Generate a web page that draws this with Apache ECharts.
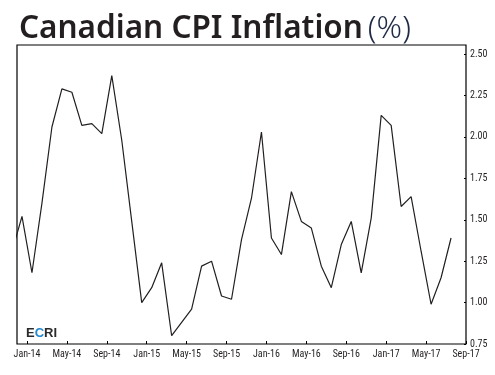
<!DOCTYPE html>
<html>
<head>
<meta charset="utf-8">
<script src="https://cdn.jsdelivr.net/npm/echarts@6/dist/echarts.min.js"></script>
<style>
  html, body { margin: 0; padding: 0; background: #fff; }
  #chart { width: 495px; height: 375px; }
</style>
</head>
<body>
<div id="chart"></div>
<script>
// monthly CPI inflation (%); Nov-13 is clipped by the left edge
var months = ['Nov-13', 'Dec-13',
  'Jan-14', 'Feb-14', 'Mar-14', 'Apr-14', 'May-14', 'Jun-14', 'Jul-14', 'Aug-14', 'Sep-14', 'Oct-14', 'Nov-14', 'Dec-14',
  'Jan-15', 'Feb-15', 'Mar-15', 'Apr-15', 'May-15', 'Jun-15', 'Jul-15', 'Aug-15', 'Sep-15', 'Oct-15', 'Nov-15', 'Dec-15',
  'Jan-16', 'Feb-16', 'Mar-16', 'Apr-16', 'May-16', 'Jun-16', 'Jul-16', 'Aug-16', 'Sep-16', 'Oct-16', 'Nov-16', 'Dec-16',
  'Jan-17', 'Feb-17', 'Mar-17', 'Apr-17', 'May-17', 'Jun-17', 'Jul-17'];
var cpi = [1.31, 1.52,
  1.18, 1.60, 2.06, 2.29, 2.27, 2.07, 2.08, 2.02, 2.37, 1.98, 1.49, 1.00,
  1.09, 1.24, 0.80, 0.88, 0.96, 1.22, 1.25, 1.04, 1.02, 1.38, 1.63, 2.03,
  1.39, 1.29, 1.67, 1.49, 1.45, 1.22, 1.09, 1.35, 1.49, 1.18, 1.51, 2.13,
  2.07, 1.58, 1.64, 1.31, 0.99, 1.15, 1.39];
var xTickLabels = ['Jan-14', 'May-14', 'Sep-14', 'Jan-15', 'May-15', 'Sep-15', 'Jan-16',
  'May-16', 'Sep-16', 'Jan-17', 'May-17', 'Sep-17'];
var yTicks = [0.75, 1.00, 1.25, 1.50, 1.75, 2.00, 2.25, 2.50];

// x is counted in months from the start of Jan-14; each value sits mid-month
var firstMonth = -2;
var data = cpi.map(function (v, i) {
  return [firstMonth + i + 0.5, v];
});
var xTickPos = xTickLabels.map(function (s, i) { return i * 4; });

var labelFont = '"Liberation Sans Narrow", "Roboto Condensed", "Liberation Sans", sans-serif';

var chart = echarts.init(document.getElementById('chart'));
chart.setOption({
  animation: false,
  backgroundColor: '#fff',
  title: {
    left: 14,
    top: 8,
    text: '{a|Canadian CPI Inflation} {b|(%)}',
    textStyle: {
      rich: {
        a: { fontFamily: '"Noto Sans", sans-serif', fontWeight: 600, fontSize: 31.5, color: '#231f20' },
        b: { fontFamily: '"Noto Sans", sans-serif', fontWeight: 300, fontSize: 31.5, color: '#1f2a44' }
      }
    }
  },
  grid: {
    left: 17, right: 29, top: 45, bottom: 31,
    show: true, borderColor: '#000', borderWidth: 1.2, backgroundColor: 'transparent'
  },
  xAxis: {
    type: 'value',
    min: -1,
    max: 44,
    splitLine: { show: false },
    axisLine: { show: false, onZero: false },
    axisTick: { show: true, inside: true, length: 3, customValues: xTickPos, lineStyle: { color: '#000' } },
    axisLabel: {
      customValues: xTickPos,
      margin: 5,
      fontSize: 10,
      fontFamily: labelFont,
      color: '#231f20',
      formatter: function (v) { return xTickLabels[Math.round(v / 4)] || ''; }
    }
  },
  yAxis: {
    type: 'value',
    position: 'right',
    min: 0.75,
    max: 2.555,
    splitLine: { show: false },
    axisLine: { show: false, onZero: false },
    axisTick: { show: true, inside: true, length: 2, customValues: yTicks, lineStyle: { color: '#000' } },
    axisLabel: {
      customValues: yTicks,
      margin: 4,
      fontSize: 10,
      fontFamily: labelFont,
      color: '#231f20',
      formatter: function (v) { return v.toFixed(2); }
    }
  },
  graphic: [{
    type: 'text',
    left: 26,
    top: 327,
    style: {
      text: '{e|E}{c|C}{e|RI}',
      rich: {
        e: { fontFamily: '"Liberation Sans", sans-serif', fontWeight: 'bold', fontSize: 13, fill: '#2a2a2a' },
        c: { fontFamily: '"Liberation Sans", sans-serif', fontWeight: 'bold', fontSize: 13, fill: '#1e88d0' }
      }
    }
  }],
  series: [{
    type: 'line',
    data: data,
    showSymbol: false,
    clip: true,
    lineStyle: { color: '#231f20', width: 1.2 }
  }]
});
</script>
</body>
</html>
